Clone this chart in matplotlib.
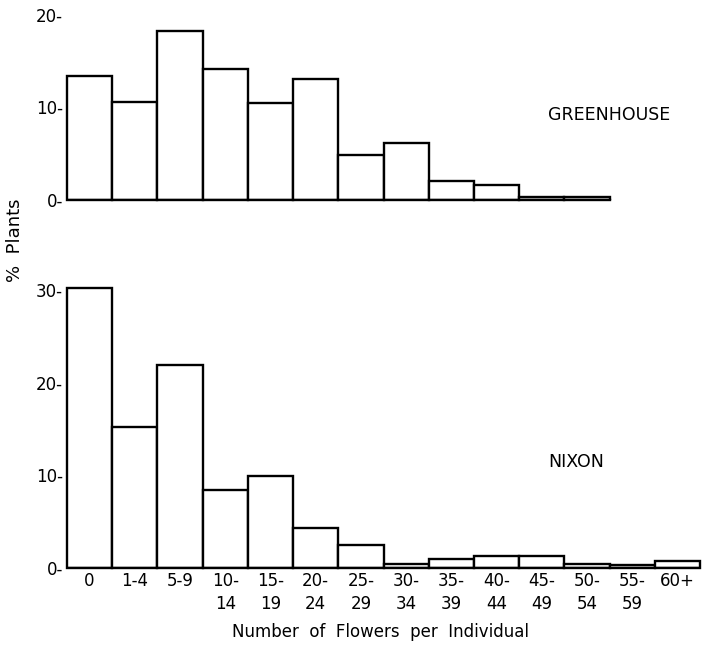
import numpy as np
import matplotlib.pyplot as plt

# flower-count classes
classes = ['0', '1-4', '5-9', '10-\n14', '15-\n19', '20-\n24', '25-\n29',
           '30-\n34', '35-\n39', '40-\n44', '45-\n49', '50-\n54', '55-\n59', '60+']

# % plants per class
greenhouse = [13.4, 10.6, 18.3, 14.2, 10.5, 13.1, 4.9, 6.2, 2.1, 1.6, 0.35, 0.35]
nixon = [30.2, 15.2, 21.9, 8.4, 9.9, 4.3, 2.5, 0.4, 1.0, 1.3, 1.3, 0.4, 0.3, 0.8]

plt.rcParams['font.family'] = ['DejaVu Sans']

fig = plt.figure(figsize=(7.04, 6.45), dpi=100)

W, H = 704, 645
left = 67 / W
width = 633 / W

ax1 = fig.add_axes([left, (H - 200) / H, width, 185 / H])
ax2 = fig.add_axes([left, (H - 568) / H, width, 278 / H])

for ax, vals, top in [(ax1, greenhouse, 20), (ax2, nixon, 30)]:
    x = np.arange(len(vals))
    ax.bar(x, vals, width=1.0, color='white', edgecolor='black',
           linewidth=1.7, clip_on=False)
    ax.set_xlim(-0.5, 13.5)
    ax.set_ylim(0, top)
    for s in ax.spines.values():
        s.set_visible(False)
    ticks = np.arange(0, top + 1, 10)
    ax.set_yticks(ticks)
    ax.set_yticklabels([f'{t}-' for t in ticks], fontsize=12)
    ax.tick_params(axis='y', length=0, pad=3)

ax1.set_xticks([])
ax1.axhline(0, xmin=0, xmax=12 / 14, color='black', linewidth=1.7)

ax2.set_xticks(np.arange(len(classes)))
ax2.set_xticklabels(classes, fontsize=12, linespacing=1.35)
ax2.tick_params(axis='x', length=0, pad=3)
ax2.axhline(0, color='black', linewidth=1.7)

ax1.text(548 / W, (H - 115) / H, 'GREENHOUSE', fontsize=12.5,
         ha='left', va='center', transform=fig.transFigure)
ax2.text(548 / W, (H - 462) / H, 'NIXON', fontsize=12.5,
         ha='left', va='center', transform=fig.transFigure)

fig.text(15 / W, (H - 240) / H, '%  Plants', rotation=90, fontsize=13,
         ha='center', va='center')
fig.text(381 / W, (H - 632) / H, 'Number  of  Flowers  per  Individual',
         fontsize=12, ha='center', va='center')

fig.savefig('out.png', dpi=100)
